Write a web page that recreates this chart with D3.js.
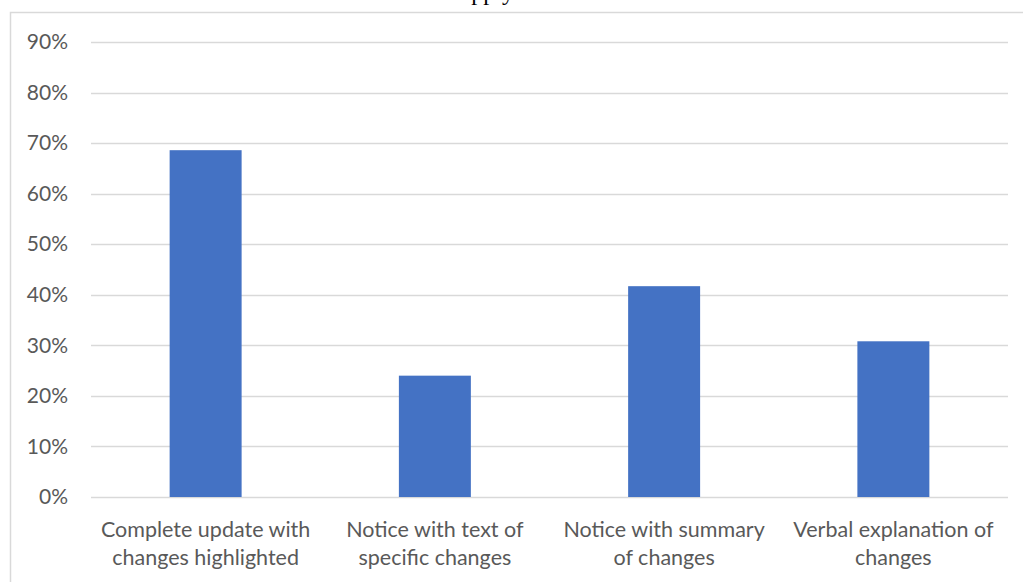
<!DOCTYPE html>
<html>
<head>
<meta charset="utf-8">
<script src="https://cdn.jsdelivr.net/npm/d3@7"></script>
<style>
  html, body { margin: 0; padding: 0; background: #fff; }
  svg { display: block; }
</style>
</head>
<body>
<svg id="chart" width="1023" height="582"></svg>
<script>
// Survey responses: share of respondents choosing each format
const categories = [
  ["Complete update with", "changes highlighted"],
  ["Notice with text of", "specific changes"],
  ["Notice with summary", "of changes"],
  ["Verbal explanation of", "changes"]
];
const values = [0.686, 0.240, 0.417, 0.308];
const tickValues = [0, 0.1, 0.2, 0.3, 0.4, 0.5, 0.6, 0.7, 0.8, 0.9];
const titleText = "Check all that apply";

const W = 1023, H = 582;
const margin = { left: 91, right: 15, top: 42, bottom: 85 };
const svg = d3.select("#chart");

// Outer chart frame (only top and left edges fall inside the view)
svg.append("rect")
  .attr("x", 10.5).attr("y", 12.5)
  .attr("width", W + 20).attr("height", H + 20)
  .attr("fill", "none").attr("stroke", "#d9d9d9").attr("stroke-width", 1.5);

// Title, mostly above the visible top edge
svg.append("text")
  .attr("x", 514).attr("y", 0)
  .attr("text-anchor", "end")
  .attr("font-family", "'Liberation Serif', 'Times New Roman', serif")
  .attr("font-size", 24)
  .attr("fill", "#000")
  .text(titleText);

const x = d3.scaleBand()
  .domain(d3.range(categories.length))
  .range([margin.left, 1008])
  .padding(0);

const y = d3.scaleLinear()
  .domain([0, 0.9])
  .range([497, 42]);

// Gridlines
svg.append("g")
  .selectAll("line")
  .data(tickValues)
  .join("line")
  .attr("x1", margin.left).attr("x2", 1008)
  .attr("y1", d => Math.round(y(d)) + 0.5)
  .attr("y2", d => Math.round(y(d)) + 0.5)
  .attr("stroke", "#d9d9d9").attr("stroke-width", 1.5);

// Y axis labels
const yAxis = d3.axisLeft(y)
  .tickValues(tickValues)
  .tickFormat(d3.format(".0%"))
  .tickSize(0)
  .tickPadding(0);
const yg = svg.append("g")
  .attr("transform", "translate(68,0)")
  .call(yAxis);
yg.select(".domain").remove();
yg.selectAll("text")
  .attr("font-family", "Lato, 'Open Sans', sans-serif")
  .attr("font-size", 21)
  .attr("fill", "#595959");

// Bars
const barW = x.bandwidth() * 0.314;
svg.append("g")
  .selectAll("rect")
  .data(values)
  .join("rect")
  .attr("x", (d, i) => x(i) + (x.bandwidth() - barW) / 2)
  .attr("y", d => y(d))
  .attr("width", barW)
  .attr("height", d => y(0) - y(d))
  .attr("fill", "#4472c4");

// Category labels (two lines each)
const lab = svg.append("g")
  .selectAll("text")
  .data(categories)
  .join("text")
  .attr("x", (d, i) => x(i) + x.bandwidth() / 2)
  .attr("y", 537)
  .attr("text-anchor", "middle")
  .attr("font-family", "Lato, 'Open Sans', sans-serif")
  .attr("font-size", 21.5)
  .attr("fill", "#595959");
lab.selectAll("tspan")
  .data(d => d)
  .join("tspan")
  .attr("x", function() { return d3.select(this.parentNode).attr("x"); })
  .attr("dy", (d, i) => i === 0 ? 0 : 27.5)
  .text(d => d);
</script>
</body>
</html>
